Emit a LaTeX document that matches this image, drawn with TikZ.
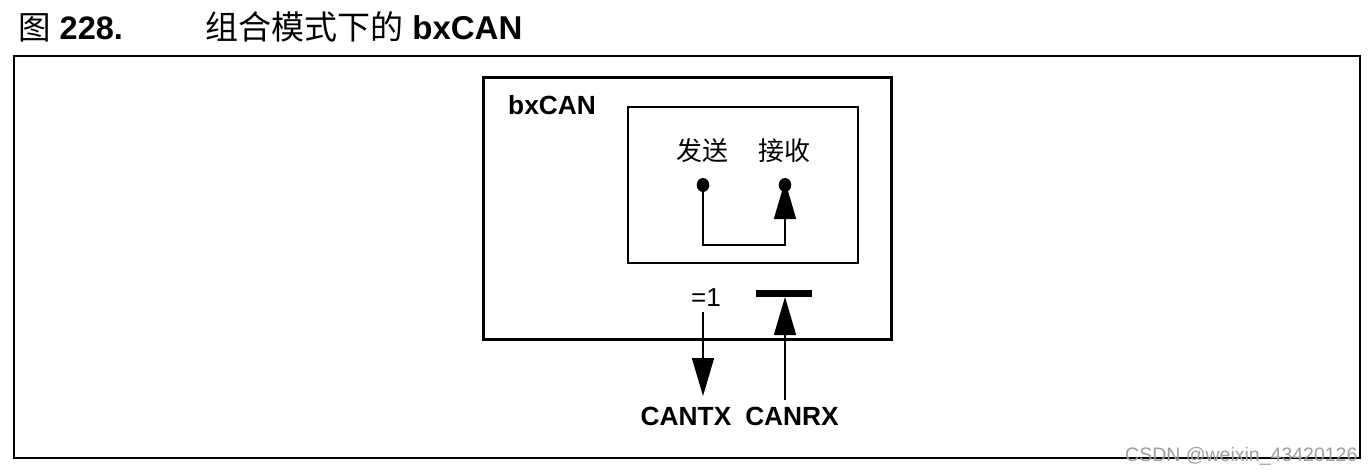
\documentclass[tikz,border=0pt]{standalone}
\usepackage{fontspec}
\setmainfont{Liberation Sans}
\newfontfamily\cjk{Noto Sans CJK SC}
\usetikzlibrary{arrows.meta}
\begin{document}
\begin{tikzpicture}[x=1pt,y=-1pt,
  lbl/.style={inner sep=0pt,font=\fontsize{26}{28}\selectfont},
  boldlbl/.style={inner sep=0pt,font=\fontsize{26.3}{28}\selectfont\bfseries},
  cjklbl/.style={inner sep=0pt,font=\fontsize{26}{28}\selectfont\cjk},
  bigtri/.style={-{Triangle[length=38pt,width=22pt]}},
  thinline/.style={line width=1.6pt},
  dot/.style={x radius=6.3pt,y radius=7pt},
]
\useasboundingbox (0,0) rectangle (1372,473);
% title
\node[anchor=base west,inner sep=0pt,font=\fontsize{32.5}{34}\selectfont] (fig) at (18,40) {{\cjk 图} \textbf{228.}};
\node[anchor=base west,inner sep=0pt,font=\fontsize{33}{35}\selectfont] (ttl) at (205,40) {{\cjk 组合模式下的} \textbf{bxCAN}};
% outer frame
\draw[line width=2.4pt] (14,56) rectangle (1360,458);
% bxCAN box
\draw[line width=3pt] (483,78) rectangle (891,339);
\node[boldlbl,anchor=base west] (bx) at (508,115) {bxCAN};
% inner box
\draw[line width=2pt] (628,107) rectangle (858,263);
\node[cjklbl] (tx) at (702,151) {发送};
\node[cjklbl] (rx) at (784,151) {接收};
\coordinate (txd) at (703,185);
\coordinate (rxd) at (785,185);
\fill (txd) ellipse [dot];
\fill (rxd) ellipse [dot];
\draw[thinline,bigtri] (txd) |- (744,245) -| ([yshift=4pt]rxd);
% =1 and output
\node[lbl,anchor=base] (eq) at (706,306) {=1};
\coordinate (txs) at (703,312);
\node[boldlbl,anchor=base] (cantx) at (686,425) {CANTX};
\node[boldlbl,anchor=base] (canrx) at (792,425) {CANRX};
\draw[thinline,bigtri] (txs) -- (703,396);
% bar and input
\fill (756,290) rectangle (812,297);
\coordinate (rxb) at (785,297);
\coordinate (rxs) at (785,400);
\draw[thinline,bigtri] (rxs) -- (rxb);
% watermark
\node[anchor=base west,inner sep=0pt,text=black!38,font=\fontsize{19.5}{21}\selectfont] (wm) at (1125,461) {CSDN @weixin\_43420126};
\end{tikzpicture}
\end{document}
